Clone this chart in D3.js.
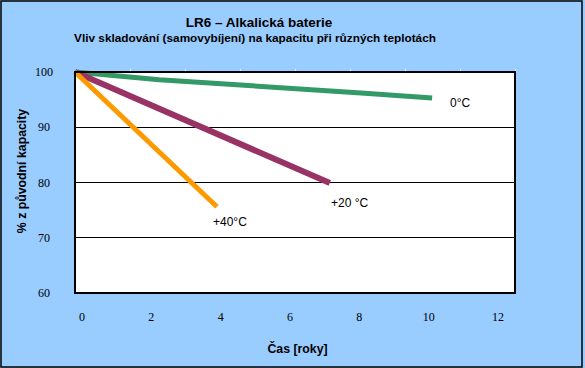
<!DOCTYPE html>
<html><head><meta charset="utf-8">
<script src="https://cdn.jsdelivr.net/npm/d3@7"></script>
<style>html,body{margin:0;padding:0;background:#99CCFF;}svg{display:block;}</style>
</head><body>
<svg id="c" width="585" height="368"></svg>
<script>
const title = "LR6 – Alkalická baterie";
const subtitle = "Vliv skladování (samovybíjení) na kapacitu při různých teplotách";
const xTitle = "Čas [roky]";
const yTitle = "% z původní kapacity";
const xTicks = [0, 2, 4, 6, 8, 10, 12];
const yTicks = [60, 70, 80, 90, 100];
const seriesNames = ["0°C", "+20 °C", "+40°C"];
const series0 = [[0, 100], [2.3, 98.6], [7.8, 96.2], [9.74, 95.3]];
const series20 = [[0, 100], [6.95, 79.9]];
const series40 = [[0, 100], [3.87, 75.6]];
const colors = ["#339966", "#993366", "#FF9900"];

const svg = d3.select("#c");
const L = 75, R = 515, T = 72, B = 293;
const x = d3.scaleLinear().domain([0, 12]).range([L, R]);
const xLab = d3.scaleLinear().domain([0, 12]).range([82, 498]);
const y = d3.scaleLinear().domain([60, 100]).range([B, T]);
const xTop = d3.scaleLinear().domain([0, 8]).range([L, R]);

svg.append("rect").attr("x", 0).attr("y", 0).attr("width", 585).attr("height", 368).attr("fill", "#99CCFF");
svg.append("rect").attr("x", 1).attr("y", 1).attr("width", 581).attr("height", 366)
  .attr("fill", "none").attr("stroke", "#000").attr("stroke-width", 1.5);

// plot area
svg.append("rect").attr("x", L).attr("y", T).attr("width", R - L).attr("height", B - T).attr("fill", "#fff");

// gridlines
svg.append("g").selectAll("line").data(yTicks.filter(v => v > 60 && v < 100)).join("line")
  .attr("x1", L).attr("x2", R).attr("y1", d => y(d)).attr("y2", d => y(d))
  .attr("stroke", "#000").attr("stroke-width", 1).attr("shape-rendering", "crispEdges");

// top small ticks
svg.append("g").selectAll("line").data(d3.range(0, 9)).join("line")
  .attr("x1", d => xTop(d)).attr("x2", d => xTop(d)).attr("y1", T - 3).attr("y2", T)
  .attr("stroke", "#E8F0FF").attr("stroke-width", 1).attr("shape-rendering", "crispEdges");

// series
const line = d3.line().x(d => x(d[0])).y(d => y(d[1]));
const all = [series0, series20, series40];
const widths = [5, 6, 5];
all.forEach((s, i) => {
  svg.append("path").attr("d", line(s)).attr("fill", "none")
    .attr("stroke", colors[i]).attr("stroke-width", widths[i]).attr("stroke-linecap", "butt");
});

// plot border
svg.append("rect").attr("x", L).attr("y", T).attr("width", R - L).attr("height", B - T)
  .attr("fill", "none").attr("stroke", "#000").attr("stroke-width", 2);

// y tick labels
svg.append("g").selectAll("text").data(yTicks).join("text")
  .attr("x", 44).attr("y", d => y(d) + 4).attr("text-anchor", "middle")
  .attr("font-family", "Liberation Serif, Times New Roman, serif").attr("font-size", 12)
  .attr("fill", "#000").text(d => d);

// x tick labels
svg.append("g").selectAll("text").data(xTicks).join("text")
  .attr("x", d => xLab(d)).attr("y", 321).attr("text-anchor", "middle")
  .attr("font-family", "Liberation Serif, Times New Roman, serif").attr("font-size", 12)
  .attr("fill", "#000").text(d => d);

// titles
svg.append("text").attr("x", 259).attr("y", 27).attr("text-anchor", "middle")
  .attr("font-family", "Liberation Sans, Arial, sans-serif").attr("font-size", 13.5).attr("font-weight", "bold")
  .text(title);
svg.append("text").attr("x", 255).attr("y", 42).attr("text-anchor", "middle")
  .attr("font-family", "Liberation Sans, Arial, sans-serif").attr("font-size", 11.8).attr("font-weight", "bold")
  .text(subtitle);
svg.append("text").attr("x", 297.5).attr("y", 353).attr("text-anchor", "middle")
  .attr("font-family", "Liberation Sans, Arial, sans-serif").attr("font-size", 12.3).attr("font-weight", "bold")
  .text(xTitle);
svg.append("text").attr("transform", "translate(26,171) rotate(-90)").attr("text-anchor", "middle")
  .attr("font-family", "Liberation Sans, Arial, sans-serif").attr("font-size", 12.3).attr("font-weight", "bold")
  .text(yTitle);

// series labels
const labelPos = [[450, 107], [331, 207], [213, 226]];
seriesNames.forEach((n, i) => {
  svg.append("text").attr("x", labelPos[i][0]).attr("y", labelPos[i][1])
    .attr("font-family", "Liberation Sans, Arial, sans-serif").attr("font-size", 12)
    .attr("fill", "#000").text(n);
});
</script>
</body></html>
